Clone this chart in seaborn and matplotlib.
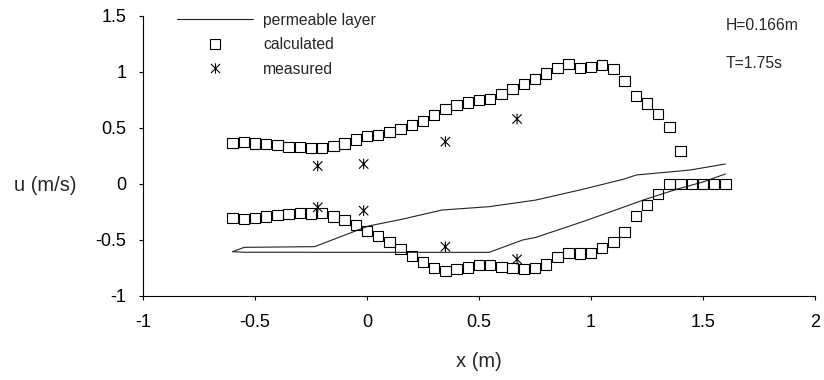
import numpy as np
import pandas as pd
import matplotlib.pyplot as plt
from matplotlib.lines import Line2D
from matplotlib.path import Path
import seaborn as sns

# ── Data ─────────────────────────────────────────────────────────────────────
x_calc = [-0.60, -0.55, -0.50, -0.45, -0.40, -0.35, -0.30, -0.25, -0.20, -0.15,
          -0.10, -0.05, 0.00, 0.05, 0.10, 0.15, 0.20, 0.25, 0.30, 0.35,
          0.40, 0.45, 0.50, 0.55, 0.60, 0.65, 0.70, 0.75, 0.80, 0.85,
          0.90, 0.95, 1.00, 1.05, 1.10, 1.15, 1.20, 1.25, 1.30, 1.35,
          1.40, 1.45, 1.50, 1.55, 1.60]

u_calc_upper = [0.366, 0.375, 0.36, 0.354, 0.345, 0.33, 0.325, 0.316, 0.316, 0.339,
                0.36, 0.396, 0.429, 0.435, 0.459, 0.49, 0.524, 0.562, 0.613, 0.664,
                0.70, 0.725, 0.747, 0.757, 0.80, 0.843, 0.888, 0.935, 0.985, 1.036,
                1.071, 1.03, 1.045, 1.06, 1.021, 0.92, 0.785, 0.715, 0.625, 0.505,
                0.29]

u_calc_lower = [-0.309, -0.318, -0.309, -0.294, -0.282, -0.271, -0.259, -0.265, -0.259, -0.294,
                -0.324, -0.369, -0.42, -0.467, -0.518, -0.583, -0.646, -0.699, -0.75, -0.78,
                -0.762, -0.747, -0.726, -0.726, -0.741, -0.75, -0.762, -0.755, -0.72, -0.657,
                -0.616, -0.622, -0.616, -0.577, -0.518, -0.429, -0.288, -0.19, -0.092, 0.0,
                0.0, 0.0, 0.0, 0.0, 0.0]

x_meas = [-0.22, -0.015, 0.35, 0.67]
u_meas_upper = [0.158, 0.176, 0.375, 0.578]
u_meas_lower = [-0.211, -0.241, -0.5625, -0.675]

x_layer_top = [-0.60, -0.548, -0.234, 0.006, 0.155, 0.335, 0.545, 0.754, 0.963, 1.143, 1.203, 1.442, 1.60]
y_layer_top = [-0.607, -0.568, -0.562, -0.378, -0.318, -0.235, -0.205, -0.146, -0.05, 0.039, 0.078, 0.122, 0.176]
x_layer_bot = [-0.60, -0.55, 0.545, 0.694, 0.754, 0.963, 1.143, 1.233, 1.382, 1.504, 1.60]
y_layer_bot = [-0.607, -0.612, -0.613, -0.503, -0.479, -0.339, -0.211, -0.146, -0.05, 0.018, 0.087]

x_ticks = [-1, -0.5, 0, 0.5, 1, 1.5, 2]
x_ticklabels = ["-1", "-0.5", "0", "0.5", "1", "1.5", "2"]
y_ticks = [-1, -0.5, 0, 0.5, 1, 1.5]
y_ticklabels = ["-1", "-0.5", "0", "0.5", "1", "1.5"]

# ── Style ────────────────────────────────────────────────────────────────────
sns.set_theme(style="ticks")
plt.rcParams.update({
    "font.family": ["Liberation Sans", "DejaVu Sans"],
    "axes.edgecolor": "black",
    "axes.linewidth": 0.8,
    "xtick.color": "black",
    "ytick.color": "black",
})

# six-arm asterisk like the spreadsheet marker
star = Path([(-1, -1), (1, 1), (-1, 1), (1, -1), (0, -1.15), (0, 1.15)],
            [Path.MOVETO, Path.LINETO, Path.MOVETO, Path.LINETO, Path.MOVETO, Path.LINETO])

fig = plt.figure(figsize=(8.24, 3.8), dpi=100)
ax = fig.add_axes([143 / 824, 0.2218, (815 - 143) / 824, 0.9587 - 0.2218])

top = pd.DataFrame({"x": x_layer_top, "y": y_layer_top})
bot = pd.DataFrame({"x": x_layer_bot, "y": y_layer_bot})
sns.lineplot(data=top, x="x", y="y", ax=ax, color="#222222", lw=0.8, sort=False, estimator=None)
sns.lineplot(data=bot, x="x", y="y", ax=ax, color="#222222", lw=0.8, sort=False, estimator=None)

calc_up = pd.DataFrame({"x": x_calc[:len(u_calc_upper)], "u": u_calc_upper})
calc_lo = pd.DataFrame({"x": x_calc, "u": u_calc_lower})
for d in (calc_up, calc_lo):
    sns.scatterplot(data=d, x="x", y="u", ax=ax, marker="s", s=55, color="black",
                    facecolor="none", edgecolor="black", linewidth=0.8, zorder=3)

meas = pd.DataFrame({"x": x_meas + x_meas, "u": u_meas_upper + u_meas_lower})
sns.scatterplot(data=meas, x="x", y="u", ax=ax, marker=star, s=60, color="black",
                facecolor="none", edgecolor="black", linewidth=0.8, zorder=4)

ax.set_xlim(-1, 2)
ax.set_ylim(-1, 1.5)
ax.set_xticks(x_ticks)
ax.set_xticklabels(x_ticklabels, fontsize=13)
ax.set_yticks(y_ticks)
ax.set_yticklabels(y_ticklabels, fontsize=13)
ax.tick_params(axis="both", direction="out", length=3, width=0.8)
ax.tick_params(axis="x", pad=10)
ax.tick_params(axis="y", pad=9)
sns.despine(ax=ax)

ax.set_xlabel("x (m)", fontsize=14.5)
ax.set_ylabel("u (m/s)", fontsize=14.5, rotation=0, ha="center", va="center")
ax.xaxis.set_label_coords(0.5, -0.2)
ax.yaxis.set_label_coords(-0.146, 0.395)

handles = [
    Line2D([], [], color="#222222", lw=0.8),
    Line2D([], [], ls="none", marker="s", ms=7.4, mfc="none", mec="black", mew=0.8),
    Line2D([], [], ls="none", marker=star, ms=7.5, mfc="none", mec="black", mew=0.8),
]
fig.legend(handles, ["permeable layer", "calculated", "measured"],
           loc="upper left", bbox_to_anchor=(177 / 824, 0.966), frameon=False,
           fontsize=11.3, handlelength=4.85, handletextpad=0.64,
           labelspacing=0.6, borderpad=0, borderaxespad=0)

fig.text(726 / 824, 1 - 25 / 380, "H=0.166m", fontsize=11.3, ha="left", va="center")
fig.text(726 / 824, 1 - 63 / 380, "T=1.75s", fontsize=11.3, ha="left", va="center")

fig.savefig("out.png", dpi=100)
